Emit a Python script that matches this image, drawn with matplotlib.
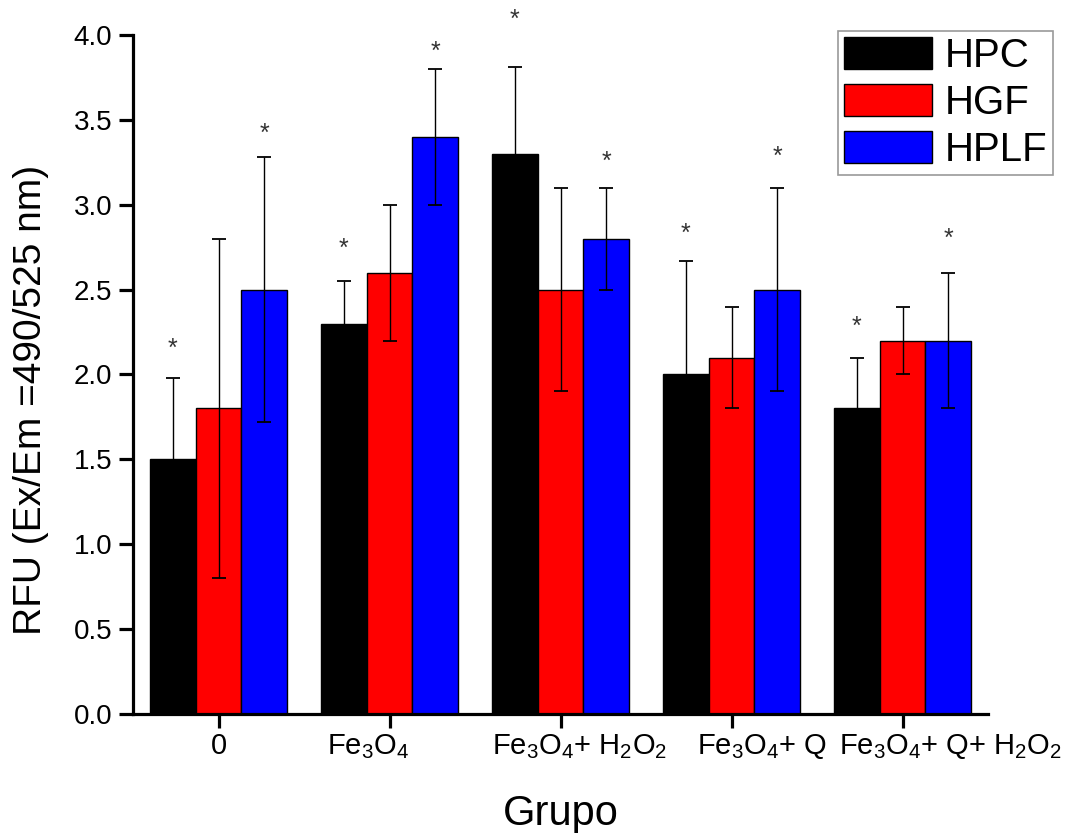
import numpy as np
import matplotlib
matplotlib.use('Agg')
import matplotlib.pyplot as plt
from matplotlib.transforms import ScaledTranslation

plt.rcParams['font.family'] = ['Liberation Sans', 'DejaVu Sans']
plt.rcParams['mathtext.fontset'] = 'custom'
plt.rcParams['mathtext.rm'] = 'Liberation Sans'
plt.rcParams['mathtext.it'] = 'Liberation Sans'

# data
groups = ['0', r'Fe$_3$O$_4$', r'Fe$_3$O$_4$+ H$_2$O$_2$', r'Fe$_3$O$_4$+ Q', r'Fe$_3$O$_4$+ Q+ H$_2$O$_2$']
series = ['HPC', 'HGF', 'HPLF']
hpc = [1.5, 2.3, 3.3, 2.0, 1.8]
hpc_err = [0.48, 0.25, 0.51, 0.67, 0.30]
hgf = [1.8, 2.6, 2.5, 2.1, 2.2]
hgf_err = [1.0, 0.4, 0.6, 0.3, 0.2]
hplf = [2.5, 3.4, 2.8, 2.5, 2.2]
hplf_err = [0.78, 0.4, 0.3, 0.6, 0.4]
# asterisk heights above HPC and HPLF bars
star_hpc = [2.15, 2.74, 4.09, 2.83, 2.28]
star_hplf = [3.42, 3.90, 3.25, 3.28, 2.80]

colors = ['#000000', '#FF0000', '#0000FF']

fig = plt.figure(figsize=(10.7, 8.33), dpi=100)
ax = fig.add_axes([0.1243, 0.1429, 0.9234 - 0.1243, 0.958 - 0.1429])

x = np.arange(len(groups))
w = 0.8 / 3
vals = [hpc, hgf, hplf]
errs = [hpc_err, hgf_err, hplf_err]
for i in range(3):
    xi = x + (i - 1) * w
    ax.bar(xi, vals[i], w, color=colors[i], edgecolor='black', linewidth=1.0,
           label=series[i], zorder=2)
    ax.errorbar(xi, vals[i], yerr=errs[i], fmt='none', ecolor='black',
                elinewidth=1.0, capsize=5, capthick=1.3, zorder=3)

for j in range(len(groups)):
    ax.text(x[j] - w, star_hpc[j], '*', ha='center', va='center', fontsize=18, color='#333333')
    ax.text(x[j] + w, star_hplf[j], '*', ha='center', va='center', fontsize=18, color='#333333')

ax.set_xlim(-0.5, 4.5)
ax.set_ylim(0, 4.0)
ax.set_yticks(np.arange(0, 4.01, 0.5))
ax.set_yticklabels(['%.1f' % v for v in np.arange(0, 4.01, 0.5)])
ax.set_xticks(x)
ax.set_xticklabels(groups)

for s in ['top', 'right']:
    ax.spines[s].set_visible(False)
for s in ['left', 'bottom']:
    ax.spines[s].set_linewidth(2.3)
ax.tick_params(axis='both', direction='out', length=10, width=2.3, pad=5)
ax.tick_params(axis='y', labelsize=20)
ax.tick_params(axis='x', labelsize=21, pad=3)

# origin places the group labels a little off-centre
shift_px = [0, -21, 19, 30, 48]
for lab, dx in zip(ax.get_xticklabels(), shift_px):
    lab.set_transform(lab.get_transform() + ScaledTranslation(dx / 100, 0, fig.dpi_scale_trans))

ax.set_ylabel('RFU (Ex/Em =490/525 nm)', fontsize=28)
ax.yaxis.set_label_coords(-0.098, 0.462)
ax.set_xlabel('Grupo', fontsize=30, labelpad=24)

leg = fig.legend(loc='upper right', bbox_to_anchor=(1053 / 1070, 1 - 31 / 833),
                 fontsize=29, frameon=True, fancybox=False, handlelength=2.2,
                 handleheight=0.85, labelspacing=0.22, handletextpad=0.3,
                 borderpad=0.15, borderaxespad=0)
leg.get_frame().set_edgecolor('#808080')
leg.get_frame().set_linewidth(1.2)

fig.savefig('out.png', dpi=100)
